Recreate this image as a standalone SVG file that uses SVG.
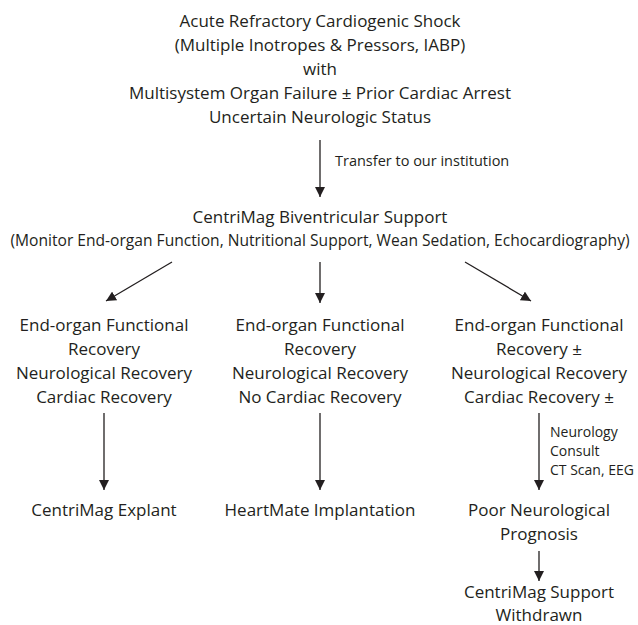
<svg xmlns="http://www.w3.org/2000/svg" width="638" height="625" viewBox="0 0 638 625">
<defs>
<marker id="ah" viewBox="0 0 10 10" refX="10" refY="5" markerWidth="10" markerHeight="10" markerUnits="userSpaceOnUse" orient="auto">
<path d="M0,0 L10,5 L0,10 z" fill="#231f20"/>
</marker>
<style>
text{font-family:"Open Sans","Noto Sans",sans-serif;fill:#231f20;text-anchor:middle;font-size:17px}
.w{font-size:15.6px}
.s{font-size:14.5px;text-anchor:start}
.n{font-size:14px;text-anchor:start}
.c line{stroke:#231f20;stroke-width:1.3;marker-end:url(#ah)}
</style>
</defs>
<rect width="638" height="625" fill="#fff"/>
<g id="shock">
<text x="320" y="27">Acute Refractory Cardiogenic Shock</text>
<text x="320" y="51">(Multiple Inotropes &amp; Pressors, IABP)</text>
<text x="320" y="75">with</text>
<text x="320" y="99">Multisystem Organ Failure ± Prior Cardiac Arrest</text>
<text x="320" y="123">Uncertain Neurologic Status</text>
</g>
<g id="centrimag">
<text x="320" y="223">CentriMag Biventricular Support</text>
<text class="w" x="320" y="246">(Monitor End-organ Function, Nutritional Support, Wean Sedation, Echocardiography)</text>
</g>
<g id="left">
<text x="104" y="331">End-organ Functional</text>
<text x="104" y="355">Recovery</text>
<text x="104" y="379">Neurological Recovery</text>
<text x="104" y="403">Cardiac Recovery</text>
</g>
<g id="middle">
<text x="320" y="331">End-organ Functional</text>
<text x="320" y="355">Recovery</text>
<text x="320" y="379">Neurological Recovery</text>
<text x="320" y="403">No Cardiac Recovery</text>
</g>
<g id="right">
<text x="539" y="331">End-organ Functional</text>
<text x="539" y="355">Recovery ±</text>
<text x="539" y="379">Neurological Recovery</text>
<text x="539" y="403">Cardiac Recovery ±</text>
</g>
<g id="explant"><text x="104" y="516">CentriMag Explant</text></g>
<g id="heartmate"><text x="320" y="516">HeartMate Implantation</text></g>
<g id="poor">
<text x="539" y="516">Poor Neurological</text>
<text x="539" y="540">Prognosis</text>
</g>
<g id="withdrawn">
<text x="539" y="598">CentriMag Support</text>
<text x="539" y="621">Withdrawn</text>
</g>
<g class="c" id="connectors">
<line x1="320" y1="140" x2="320" y2="197"/>
<line x1="172" y1="262" x2="106" y2="301"/>
<line x1="320" y1="262" x2="320" y2="303"/>
<line x1="465" y1="262" x2="531" y2="301"/>
<line x1="104" y1="413" x2="104" y2="490"/>
<line x1="320" y1="413" x2="320" y2="490"/>
<line x1="539" y1="413" x2="539" y2="490"/>
<line x1="539" y1="551" x2="539" y2="581"/>
</g>
<g id="labels">
<text class="s" x="335" y="166">Transfer to our institution</text>
<text class="n" x="550" y="437">Neurology</text>
<text class="n" x="550" y="456">Consult</text>
<text class="n" x="550" y="475">CT Scan, EEG</text>
</g>
</svg>
